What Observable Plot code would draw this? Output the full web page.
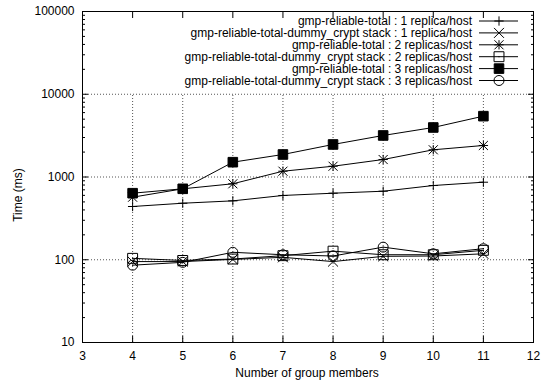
<!DOCTYPE html>
<html><head><meta charset="utf-8">
<script src="https://cdn.jsdelivr.net/npm/d3@7"></script>
<script src="https://cdn.jsdelivr.net/npm/@observablehq/plot@0.6"></script>
<style>
body{margin:0;background:#fff}
svg{font-family:"Liberation Sans",Arial,Helvetica,sans-serif}
</style>
</head><body><div id="chart"></div>
<script>
// ---- data ----
const members = [4, 5, 6, 7, 8, 9, 10, 11];
const seriesNames = [
  "gmp-reliable-total : 1 replica/host",
  "gmp-reliable-total-dummy_crypt stack : 1 replica/host",
  "gmp-reliable-total : 2 replicas/host",
  "gmp-reliable-total-dummy_crypt stack : 2 replicas/host",
  "gmp-reliable-total : 3 replicas/host",
  "gmp-reliable-total-dummy_crypt stack : 3 replicas/host"
];
const relTotal1 = [440, 482, 515, 598, 637, 673, 789, 865];
const dummy1    = [95, 95, 101, 107, 95, 110, 111, 118];
const relTotal2 = [570, 720, 828, 1175, 1349, 1626, 2132, 2404];
const dummy2    = [104, 98, 102, 112, 127, 115, 115, 130];
const relTotal3 = [637, 720, 1510, 1871, 2472, 3176, 3965, 5436];
const dummy3    = [86, 93, 123, 115, 111, 142, 118, 136];
const seriesValues = [relTotal1, dummy1, relTotal2, dummy2, relTotal3, dummy3];

const xTicks = [3, 4, 5, 6, 7, 8, 9, 10, 11, 12];
const xGrid = [4, 5, 6, 7, 8, 9, 10, 11];
const yTicks = [10, 100, 1000, 10000, 100000];
const yGrid = [100, 1000, 10000];
const yMinor = [];
for (const p of [10, 100, 1000, 10000]) for (let k = 2; k <= 9; k++) yMinor.push(p * k);

// ---- marker styles (layout only) ----
const markers = [
  [{symbol: "plus", r: 3.1}],
  [{symbol: "times", r: 4.6}],
  [{symbol: "plus", r: 3.1}, {symbol: "times", r: 4.2}],
  [{symbol: "square", r: 5.6, fill: "none"}, {symbol: "circle", r: 0.6, fill: "#000", stroke: "none"}],
  [{symbol: "square", r: 5.4, fill: "#000"}],
  [{symbol: "circle", r: 5, fill: "none"}, {symbol: "circle", r: 0.6, fill: "#000", stroke: "none"}]
];

const rows = seriesValues.flatMap((vals, s) =>
  members.map((m, i) => ({series: s, members: m, time: vals[i]})));

const lineMarks = seriesValues.map((vals, s) =>
  Plot.line(rows.filter(d => d.series === s), {x: "members", y: "time", stroke: "#000", strokeWidth: 1}));
const dotMarks = seriesValues.flatMap((vals, s) =>
  markers[s].map(mk => Plot.dot(rows.filter(d => d.series === s), {
    x: "members", y: "time", symbol: mk.symbol, r: mk.r,
    stroke: mk.stroke ?? "#000", fill: mk.fill ?? "none", strokeWidth: 1
  })));

const font = '"Liberation Sans", Arial, Helvetica, sans-serif';
const chart = Plot.plot({
  width: 543, height: 381,
  marginLeft: 82, marginRight: 10, marginTop: 11, marginBottom: 39,
  style: {fontFamily: font, fontSize: "12px", background: "#fff", color: "#000"},
  x: {domain: [3, 12], label: null},
  y: {type: "log", domain: [10, 100000], label: null},
  marks: [
    Plot.ruleX(xGrid, {y1: 10, y2: 10000, stroke: "#555", strokeDasharray: "1,2"}),
    Plot.ruleY(yGrid, {stroke: "#555", strokeDasharray: "1,2"}),
    Plot.frame({stroke: "#000"}),
    Plot.axisX(xTicks, {anchor: "bottom", tickSize: 0, tickPadding: 9, tickFormat: d => String(d), label: null}),
    Plot.axisX(xGrid, {anchor: "bottom", tickSize: 6, dy: -6, fill: "none", label: null}),
    Plot.axisX(xGrid, {anchor: "top", tickSize: 6, dy: 6, fill: "none", label: null}),
    Plot.axisY(yTicks, {anchor: "left", tickSize: 0, tickPadding: 8, tickFormat: d => String(d), label: null}),
    Plot.axisY(yGrid, {anchor: "left", tickSize: 6, dx: 6, fill: "none", label: null}),
    Plot.axisY(yGrid, {anchor: "right", tickSize: 6, dx: -6, fill: "none", label: null}),
    Plot.axisY(yMinor, {anchor: "left", tickSize: 3, dx: 3, fill: "none", label: null}),
    Plot.axisY(yMinor, {anchor: "right", tickSize: 3, dx: -3, fill: "none", label: null}),
    ...lineMarks,
    ...dotMarks
  ]
});
document.getElementById("chart").appendChild(chart);

// ---- axis titles and key ----
const svg = d3.select(chart);
svg.append("text").attr("x", 307).attr("y", 377).attr("text-anchor", "middle")
  .attr("font-family", font).attr("font-size", 12).attr("fill", "#000").text("Number of group members");
svg.append("text").attr("transform", "translate(22,195) rotate(-90)").attr("text-anchor", "middle")
  .attr("font-family", font).attr("font-size", 12).attr("fill", "#000").text("Time (ms)");

const symbolMap = {plus: d3.symbolPlus, times: d3.symbolTimes, square: d3.symbolSquare, circle: d3.symbolCircle};
const key = svg.append("g").attr("font-family", font).attr("font-size", 12);
seriesNames.forEach((name, i) => {
  const y = 21 + i * 11.9;
  key.append("text").attr("x", 472).attr("y", y).attr("dy", "0.35em").attr("text-anchor", "end")
    .attr("fill", "#000").text(name);
  key.append("line").attr("x1", 479).attr("x2", 518).attr("y1", y).attr("y2", y).attr("stroke", "#000");
  markers[i].forEach(mk => {
    key.append("path").attr("transform", `translate(499,${y})`)
      .attr("d", d3.symbol(symbolMap[mk.symbol], Math.PI * mk.r * mk.r)())
      .attr("fill", mk.fill ?? "none").attr("stroke", mk.stroke ?? "#000");
  });
});
</script>
</body></html>
